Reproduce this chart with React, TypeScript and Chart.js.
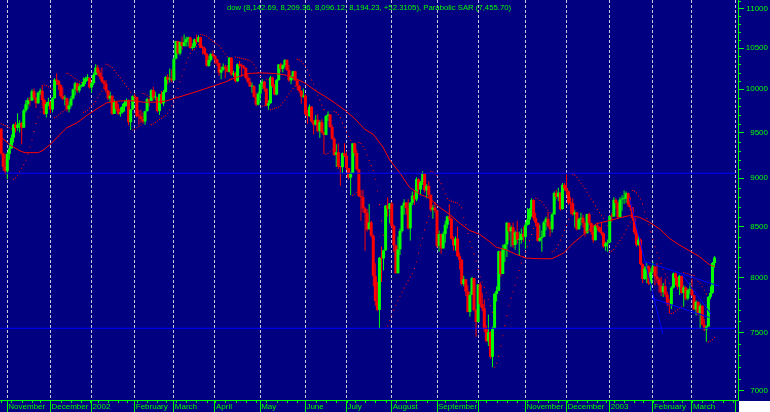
import React, { useEffect, useRef } from 'react';
import { Chart, registerables } from 'chart.js';

Chart.register(...registerables);

const NAVY = '#000080';
const GREEN = '#00ff00';
const RED = '#ff0000';
const BLUE = '#0000ff';
const GRID = '#c8c8d8';
const FONT = '"Liberation Sans", Arial, sans-serif';

const TITLE = 'dow (8,142.69, 8,209.36, 8,096.12, 8,194.23, +52.3105), Parabolic SAR (7,455.70)';

// Trading-day index 0 = 29 Oct 2001 ... 347 = 18 Mar 2003
const FIRST_OPEN = 9545;

const closes = [
  9269, 9122, 9075,
  9264, 9324, 9441, 9591, 9554, 9588, 9608, 9555, 9751, 9824, 9872, 9867, 9976, 9901, 9835, 9960, 9983, 9873, 9712, 9829, 9852,
  9764, 9893, 10114, 10099, 10049, 9921, 9888, 9895, 9766, 9811, 9891, 9998, 10070, 9985, 10035, 10035, 10088, 10131, 10136, 10021,
  10073, 10172, 10260, 10197, 10150, 10094, 10067, 9987, 9891, 9924, 9712, 9851, 9771, 9713, 9731, 9797, 9841, 9866, 9618, 9763, 9920,
  9907, 9687, 9685, 9653, 9625, 9744, 9884, 9863, 9989, 9903, 9903, 9745, 9941, 9834, 9968, 10145, 10115, 10127, 10106,
  10368, 10586, 10433, 10574, 10525, 10572, 10611, 10632, 10501, 10517, 10608, 10577, 10635, 10501, 10497, 10427, 10281, 10353, 10426, 10404,
  10362, 10313, 10198, 10235, 10271, 10249, 10208, 10381, 10176, 10191, 10094, 10301, 10281, 10276, 10257, 10137, 10089, 10031, 10035, 9910, 9819, 9946,
  10059, 10091, 10006, 9808, 9836, 10141, 10037, 9939, 10109, 10298, 10243, 10289, 10353, 10229, 10105, 10157, 10216, 10104, 10040, 9981, 9912, 9925,
  9709, 9687, 9796, 9624, 9589, 9645, 9517, 9617, 9502, 9474, 9687, 9706, 9562, 9431, 9253, 9281, 9126, 9120, 9269, 9243,
  9109, 9007, 9054, 9380, 9275, 9096, 8813, 8801, 8684, 8639, 8473, 8542, 8409, 8019, 7784, 7702, 8191, 8186, 8264, 8712, 8680, 8736,
  8506, 8313, 8043, 8274, 8456, 8712, 8745, 8688, 8482, 8743, 8818, 8778, 8990, 8881, 8957, 9053, 8872, 8919, 8825, 8671, 8693, 8663,
  8308, 8425, 8283, 8427, 8519, 8602, 8581, 8379, 8312, 8380, 8207, 8172, 7942, 7986, 7872, 7683, 7841, 7997, 7701, 7592,
  7938, 7755, 7717, 7528, 7422, 7501, 7286, 7533, 7850, 7877, 8255, 8036, 8275, 8322, 8538, 8451, 8494, 8317, 8443, 8368, 8368, 8427, 8397,
  8518, 8571, 8678, 8771, 8586, 8538, 8358, 8386, 8398, 8542, 8579, 8504, 8474, 8623, 8845, 8804, 8849, 8676, 8931, 8896,
  8862, 8742, 8737, 8623, 8645, 8473, 8574, 8589, 8538, 8433, 8627, 8535, 8447, 8364, 8511, 8493, 8448, 8432, 8303, 8332, 8342,
  8607, 8601, 8773, 8740, 8595, 8776, 8785, 8785, 8842, 8723, 8697, 8586, 8442, 8318, 8369, 8131, 7989, 8088, 8110, 7945, 8054,
  8109, 8013, 7985, 7929, 7864, 7920, 7843, 7758, 7749, 7908, 8041, 8000, 7915, 8018, 7858, 7909, 7806, 7884, 7891,
  7838, 7705, 7776, 7673, 7740, 7568, 7525, 7552, 7821, 7859, 8142, 8194,
];

const highs = [
  9550, 9275, 9260,
  9285, 9380, 9480, 9600, 9620, 9720, 9640, 9620, 9770, 9870, 9900, 9910, 10000, 10010, 9910, 9970, 10010, 10050, 9890, 9850, 9900,
  9860, 9910, 10130, 10190, 10110, 10060, 10020, 9930, 9900, 9860, 9920, 10010, 10090, 10080, 10070, 10060, 10140, 10150, 10180, 10140,
  10090, 10200, 10300, 10290, 10230, 10260, 10110, 10110, 9990, 9970, 9930, 9880, 9860, 9830, 9790, 9830, 9870, 9890, 9880, 9770, 9930,
  9950, 9910, 9760, 9760, 9730, 9750, 9900, 9890, 10000, 10030, 9970, 9905, 9950, 9980, 9990, 10160, 10180, 10250, 10240,
  10380, 10590, 10590, 10580, 10640, 10670, 10640, 10640, 10640, 10560, 10620, 10670, 10660, 10640, 10530, 10520, 10440, 10400, 10440, 10470,
  10410, 10370, 10320, 10270, 10310, 10290, 10290, 10390, 10385, 10220, 10210, 10310, 10340, 10310, 10290, 10260, 10180, 10140, 10080, 10050, 9960, 9970,
  10070, 10120, 10100, 10010, 9870, 10160, 10150, 10060, 10120, 10300, 10320, 10300, 10360, 10360, 10290, 10170, 10220, 10220, 10120, 10050, 9990, 10010,
  9940, 9760, 9820, 9800, 9640, 9700, 9710, 9640, 9650, 9510, 9700, 9740, 9710, 9590, 9450, 9370, 9380, 9130, 9280, 9380,
  9290, 9110, 9070, 9380, 9390, 9310, 9100, 8880, 8880, 8700, 8680, 8730, 8560, 8420, 8140, 7960, 8200, 8300, 8270, 8720, 8800, 8740,
  8750, 8520, 8320, 8400, 8480, 8720, 8780, 8750, 8780, 8750, 8860, 8870, 9010, 9000, 8970, 9076, 9055, 8940, 8970, 8830, 8720, 8750,
  8665, 8460, 8430, 8450, 8560, 8610, 8730, 8590, 8400, 8400, 8500, 8240, 8180, 8020, 7990, 7930, 7870, 8010, 8000, 7710,
  7940, 7960, 7860, 7800, 7560, 7660, 7510, 7550, 7860, 7920, 8260, 8260, 8320, 8330, 8550, 8540, 8510, 8540, 8460, 8560, 8450, 8480, 8500,
  8540, 8690, 8690, 8790, 8780, 8640, 8540, 8520, 8460, 8560, 8600, 8650, 8550, 8640, 8860, 8880, 8900, 8850, 8950, 8950,
  9043, 8870, 8800, 8790, 8670, 8650, 8590, 8640, 8620, 8550, 8630, 8640, 8540, 8520, 8520, 8540, 8500, 8540, 8440, 8350, 8370,
  8610, 8640, 8800, 8790, 8750, 8800, 8820, 8870, 8860, 8850, 8800, 8700, 8600, 8480, 8420, 8380, 8140, 8110, 8140, 8120, 8090,
  8150, 8110, 8140, 8000, 8010, 7950, 7990, 7870, 7800, 7920, 8050, 8050, 8010, 8030, 8020, 7930, 7920, 7900, 7950,
  7990, 7840, 7790, 7780, 7760, 7745, 7620, 7560, 7830, 7920, 8150, 8209,
];

const lows = [
  9250, 9080, 9040,
  8990, 9200, 9320, 9390, 9500, 9520, 9500, 9370, 9555, 9730, 9770, 9800, 9860, 9880, 9780, 9830, 9930, 9800, 9700, 9670, 9800,
  9720, 9730, 9890, 10050, 9990, 9900, 9870, 9810, 9740, 9730, 9790, 9880, 9930, 9960, 9960, 10020, 10030, 10060, 10100, 10010,
  9960, 10050, 10170, 10160, 10120, 10070, 10010, 9960, 9870, 9850, 9700, 9710, 9740, 9700, 9680, 9720, 9740, 9800, 9580, 9530, 9760,
  9850, 9670, 9590, 9610, 9600, 9590, 9740, 9800, 9860, 9870, 9870, 9730, 9700, 9830, 9800, 9960, 10060, 10080, 10080,
  10100, 10360, 10420, 10410, 10480, 10520, 10520, 10520, 10490, 10480, 10500, 10550, 10570, 10500, 10420, 10410, 10270, 10270, 10330, 10390,
  10300, 10280, 10160, 10120, 10220, 10130, 10200, 10200, 10160, 10150, 10080, 10090, 10250, 10150, 10240, 10120, 10070, 10030, 9960, 9900, 9800, 9810,
  9860, 10000, 9970, 9800, 9760, 9830, 10020, 9930, 9930, 10100, 10210, 10200, 10260, 10220, 10090, 10060, 10110, 10100, 9990, 9960, 9830, 9900,
  9690, 9600, 9680, 9610, 9480, 9580, 9500, 9440, 9490, 9260, 9470, 9630, 9550, 9420, 9240, 9120, 9100, 8920, 9050, 9230,
  9090, 8990, 8820, 9054, 9240, 9080, 8800, 8560, 8640, 8260, 8450, 8470, 8390, 7920, 7740, 7690, 7532, 7960, 8070, 8264, 8600, 8530,
  8480, 8250, 8040, 8043, 8220, 8440, 8620, 8620, 8470, 8360, 8720, 8720, 8760, 8850, 8820, 8930, 8850, 8790, 8790, 8650, 8580, 8640,
  8290, 8250, 8230, 8283, 8340, 8480, 8560, 8370, 8260, 8260, 8200, 8080, 7930, 7920, 7830, 7680, 7640, 7840, 7690, 7460,
  7590, 7730, 7690, 7500, 7410, 7380, 7270, 7197, 7530, 7780, 7877, 8010, 8036, 8150, 8200, 8360, 8300, 8290, 8270, 8330, 8210, 8330, 8350,
  8280, 8510, 8520, 8600, 8560, 8500, 8350, 8350, 8250, 8398, 8460, 8490, 8400, 8440, 8620, 8780, 8760, 8660, 8676, 8870,
  8820, 8720, 8640, 8610, 8490, 8460, 8470, 8510, 8490, 8400, 8430, 8510, 8420, 8340, 8360, 8460, 8440, 8410, 8290, 8260, 8250,
  8340, 8550, 8600, 8680, 8580, 8590, 8660, 8730, 8740, 8700, 8660, 8560, 8420, 8300, 8310, 8120, 7950, 7980, 7950, 7930, 7880,
  8040, 7930, 7950, 7860, 7830, 7820, 7820, 7740, 7670, 7710, 7900, 7930, 7890, 7840, 7850, 7730, 7790, 7790, 7850,
  7830, 7700, 7650, 7650, 7530, 7560, 7510, 7416, 7552, 7800, 7850, 8096,
];

const sar = [
  9600, 9590, 9580, 9570, 9555, 9540, 8990, 9002, 9027, 9069,
  9108, 9145, 9195, 9263, 9339, 9419, 9512, 9602, 9675, 9735,
  9785, 10050, 10043, 10028, 10014, 10000, 9670, 9679, 9699, 9719,
  9739, 9757, 10190, 10181, 10163, 10145, 10127, 10110, 10095, 10080,
  9730, 9738, 9754, 9780, 9804, 9827, 9857, 9901, 9941, 9977,
  10009, 10300, 10293, 10276, 10260, 10226, 10194, 10164, 10136, 10100,
  10066, 10035, 10007, 9964, 9530, 9538, 9554, 9570, 9585, 9950,
  9943, 9929, 9915, 9590, 9598, 9615, 9632, 9648, 9663, 9678,
  9692, 9720, 9757, 9806, 9850, 9914, 10009, 10090, 10160, 10237,
  10315, 10379, 10431, 10474, 10480, 10514, 10542, 10670, 10667, 10657,
  10647, 10624, 10603, 10583, 10564, 10546, 10529, 10499, 10461, 10427,
  10396, 10120, 10125, 10130, 10390, 10384, 10378, 10372, 10366, 10360,
  10354, 10343, 10324, 10295, 10256, 10201, 10153, 9800, 9806, 10120,
  10114, 9760, 9768, 9776, 9784, 9792, 9812, 9842, 9871, 9910,
  9946, 9979, 10009, 10037, 10360, 10353, 10337, 10307, 10278, 10231,
  10168, 10111, 10060, 9990, 9929, 9875, 9814, 9762, 9260, 9269,
  9288, 9306, 9740, 9730, 9706, 9670, 9610, 9555, 9504, 9457,
  9414, 8820, 8831, 8853, 9390, 9378, 9345, 9314, 9251, 9192,
  9136, 9083, 8990, 8865, 8724, 8557, 8414, 7532, 7556, 7606,
  7654, 7700, 7744, 7786, 7827, 7866, 7903, 7939, 7973, 8007,
  8039, 8088, 8151, 8237, 8314, 8384, 8467, 8540, 8604, 9076,
  9067, 9048, 9029, 8985, 8943, 8886, 8834, 8786, 8770, 8760,
  8750, 8745, 8740, 8720, 8690, 8590, 8520, 8430, 8350, 8290,
  8230, 8160, 8080, 8010, 7960, 7910, 7860, 7800, 7740, 7680,
  7197, 7230, 7290, 7380, 7470, 7560, 7650, 7740, 7810, 7870,
  7930, 8000, 8070, 8140, 8200, 8250, 8300, 8360, 8420, 8480,
  8790, 8784, 8767, 8750, 8720, 8692, 8665, 8640, 8250, 8258,
  8282, 8318, 8365, 8408, 8462, 8511, 8575, 8631, 9043, 9034,
  9012, 8979, 8948, 8919, 8891, 8852, 8816, 8783, 8752, 8711,
  8674, 8641, 8611, 8584, 8549, 8509, 8250, 8257, 8272, 8304,
  8334, 8362, 8388, 8423, 8468, 8508, 8544, 8870, 8864, 8846,
  8813, 8782, 8729, 8651, 8581, 8518, 8447, 8368, 8300, 8241,
  8190, 8137, 8082, 8037, 8000, 7948, 7670, 7675, 7690, 7704,
  7718, 7731, 8050, 8044, 8038, 8032, 8027, 8021, 7988, 7968,
  7949, 7915, 7884, 7847, 7416, 7424, 7435, 7456,
];

// Moving average (index, value)
const maIdx = [0, 4.3, 9.2, 11.6, 18.1, 20.5, 23.8, 27.8, 31.9, 36.7, 41.6, 46.5, 51.3, 55.3, 59.4, 64.2, 69.1, 75.6, 80.5, 85.3,
  89.4, 94.2, 99.1, 103.9, 108.8, 113.7, 120.1, 126.6, 133.1, 137.9, 142.8, 147.7, 152.5, 157.4, 162.2, 167.1, 172, 176.8, 181, 185.7,
  189, 193.8, 198.7, 203.5, 208.4, 213.3, 218.1, 223, 227.8, 232.7, 237.6, 240.8, 245.7, 250.5, 255.4, 262, 268, 273.5, 278.1, 282.9,
  289.4, 295.9, 300.7, 305.6, 310.5, 315.3, 320.2, 325, 329.9, 334.7, 339.6, 344.5, 347];
const maVal = [9450, 9362, 9296, 9277, 9277, 9305, 9366, 9460, 9554, 9608, 9693, 9770, 9840, 9857, 9864, 9864, 9848, 9848, 9864, 9900,
  9930, 9966, 10005, 10044, 10084, 10135, 10188, 10196, 10188, 10172, 10132, 10075, 9989, 9918, 9842, 9757, 9658, 9538, 9480, 9339,
  9197, 9060, 8903, 8833, 8790, 8695, 8625, 8535, 8462, 8423, 8350, 8295, 8269, 8225, 8189, 8183, 8183, 8237, 8333, 8415,
  8528, 8561, 8588, 8611, 8594, 8544, 8478, 8383, 8317, 8261, 8204, 8125, 8106];

const monthIdx = [3, 24, 44, 65, 84, 104, 126, 148, 168, 190, 212, 232, 255, 275, 296, 317, 336, 357];
const monthLabels = ['November', 'December', '2002', 'February', 'March', 'April', 'May', 'June', 'July', 'August', 'September', '',
  'November', 'December', '2003', 'February', 'March', ''];
const weekIdx = [0, 5, 10, 15, 19, 24, 29, 34, 39, 43, 47, 52, 57, 61, 66, 71, 76, 80, 85, 90, 95, 100, 104, 109, 114, 119, 124, 129,
  134, 139, 144, 148, 153, 158, 163, 168, 172, 177, 182, 187, 192, 197, 202, 207, 212, 216, 221, 226, 231, 236, 241, 246, 251, 256,
  261, 266, 271, 275, 280, 285, 290, 294, 298, 303, 308, 312, 317, 322, 327, 331, 336, 341, 346, 351, 356];

const yTicks = [7000, 7500, 8000, 8500, 9000, 9500, 10000, 10500, 11000];
const yMinorTicks = [7100, 7200, 7300, 7400, 7600, 7700, 7800, 7900, 8100, 8200, 8300, 8400, 8600, 8700, 8800, 8900,
  9100, 9200, 9300, 9400, 9600, 9700, 9800, 9900, 10100, 10200, 10300, 10400, 10600, 10700, 10800, 10900, 11100];

const supportLevels = [9054, 7536];
// [startIndex, startValue, endIndex, endValue]
const trendLines = [
  [305.6, 8790, 321.8, 7486],
  [313.4, 8155, 349.2, 7921],
  [316.5, 7809, 344.5, 7633],
  [331.3, 8027, 345.3, 7665],
];

const X_MIN = -0.55;
const X_MAX = 358.4;
const Y_MIN = 6923;
const Y_MAX = 11114;

const bgPlugin = {
  id: 'bgFill',
  beforeDraw(chart: any) {
    const { ctx, width, height } = chart;
    ctx.save();
    ctx.fillStyle = NAVY;
    ctx.fillRect(0, 0, width, height);
    ctx.restore();
  },
};

const decoPlugin = {
  id: 'deco',
  afterDraw(chart: any) {
    const ctx = chart.ctx;
    const xs = chart.scales.x;
    const ys = chart.scales.y;
    const area = chart.chartArea;
    ctx.save();
    ctx.strokeStyle = GREEN;
    ctx.lineWidth = 1;
    ctx.beginPath();
    for (const v of yMinorTicks) {
      const y = Math.round(ys.getPixelForValue(v)) + 0.5;
      ctx.moveTo(area.right, y);
      ctx.lineTo(area.right + 3, y);
    }
    for (const i of weekIdx) {
      const x = Math.round(xs.getPixelForValue(i)) + 0.5;
      ctx.moveTo(x, area.bottom);
      ctx.lineTo(x, area.bottom + 3);
    }
    ctx.stroke();
    ctx.fillStyle = '#ffffff';
    ctx.fillRect(Math.round(area.right) + 1, Math.round(area.bottom) + 1, chart.width, chart.height);
    ctx.fillStyle = GREEN;
    ctx.font = `7.75px ${FONT}`;
    ctx.textBaseline = 'alphabetic';
    ctx.textAlign = 'left';
    ctx.fillText(TITLE, 227, 10);
    ctx.restore();
  },
};

export default function App() {
  const ref = useRef<HTMLCanvasElement>(null);

  useEffect(() => {
    const canvas = ref.current;
    if (!canvas) return;
    const opens = [FIRST_OPEN, ...closes.slice(0, -1)];
    const up = closes.map((c, i) => c >= opens[i]);
    const wickData = closes.map((c, i) => ({ x: i, y: [lows[i], highs[i]] }));
    const bodyData = closes.map((c, i) => ({ x: i, y: [Math.min(opens[i], c), Math.max(opens[i], c)] }));
    const candleColor = up.map((u) => (u ? GREEN : RED));

    const datasets: any[] = [
      {
        type: 'bar', data: wickData, backgroundColor: candleColor, borderWidth: 0,
        barThickness: 1, grouped: false, inflateAmount: 0, order: 10,
      },
      {
        type: 'bar', data: bodyData, backgroundColor: candleColor, borderWidth: 0,
        borderSkipped: false, barThickness: 3, minBarLength: 1, grouped: false, inflateAmount: 0, order: 9,
      },
      {
        type: 'line', data: maIdx.map((x, k) => ({ x, y: maVal[k] })), borderColor: RED, borderWidth: 1,
        pointRadius: 0, pointHoverRadius: 0, tension: 0, fill: false, order: 5,
      },
      {
        type: 'line', data: sar.map((v, i) => ({ x: i, y: v })), showLine: false, pointStyle: 'rect',
        pointRadius: 0.75, pointHoverRadius: 0, pointBorderWidth: 0, pointBackgroundColor: RED, borderColor: RED, order: 4,
      },
    ];
    supportLevels.forEach((v) => {
      datasets.push({
        type: 'line', data: [{ x: -1, y: v }, { x: 357, y: v }], borderColor: BLUE, borderWidth: 1,
        pointRadius: 0, pointHoverRadius: 0, fill: false, order: 2,
      });
    });
    trendLines.forEach((t) => {
      datasets.push({
        type: 'line', data: [{ x: t[0], y: t[1] }, { x: t[2], y: t[3] }], borderColor: BLUE, borderWidth: 1,
        pointRadius: 0, pointHoverRadius: 0, fill: false, order: 1,
      });
    });

    const chart = new Chart(canvas, {
      type: 'bar',
      data: { datasets },
      options: {
        responsive: false,
        animation: false,
        devicePixelRatio: 1,
        events: [],
        layout: { autoPadding: false, padding: { left: 0, right: 2, top: 0, bottom: 0 } },
        plugins: { legend: { display: false }, tooltip: { enabled: false }, title: { display: false } },
        scales: {
          x: {
            type: 'linear', position: 'bottom', min: X_MIN, max: X_MAX, bounds: 'data', offset: false,
            afterBuildTicks: (s: any) => { s.ticks = monthIdx.map((v) => ({ value: v })); },
            afterFit: (s: any) => {
              s.height = 12; s.paddingLeft = 0; s.paddingRight = 0; s.paddingTop = 0; s.paddingBottom = 0;
            },
            grid: {
              offset: false,
              color: GRID, lineWidth: 1, drawOnChartArea: true, drawTicks: true, tickLength: 12,
              tickColor: GREEN, tickWidth: 1, tickBorderDash: [],
            },
            border: { display: true, color: GREEN, width: 1, dash: [3, 2] },
            ticks: {
              autoSkip: false, maxRotation: 0, minRotation: 0, align: 'start', labelOffset: 1, padding: -10,
              color: GREEN, font: { family: FONT, size: 8 },
              callback: (_v: any, i: number) => monthLabels[i] ?? '',
            },
          },
          y: {
            type: 'logarithmic', position: 'right', min: Y_MIN, max: Y_MAX, bounds: 'data',
            afterBuildTicks: (s: any) => { s.ticks = yTicks.map((v) => ({ value: v })); },
            afterFit: (s: any) => {
              s.width = 30; s.paddingLeft = 0; s.paddingRight = 0; s.paddingTop = 0; s.paddingBottom = 0;
            },
            grid: { offset: false, drawOnChartArea: false, drawTicks: true, tickLength: 6, tickColor: GREEN, tickWidth: 1 },
            border: { display: true, color: GREEN, width: 1 },
            ticks: {
              autoSkip: false, crossAlign: 'far', padding: 2, color: GREEN, font: { family: FONT, size: 8 },
              callback: (v: any) => String(v),
            },
          },
        },
      } as any,
      plugins: [bgPlugin, decoPlugin],
    } as any);

    return () => chart.destroy();
  }, []);

  return (
    <div style={{ position: 'absolute', left: 0, top: 0, width: 770, height: 412 }}>
      <canvas ref={ref} width={770} height={412} style={{ display: 'block', width: 770, height: 412 }} />
    </div>
  );
}
